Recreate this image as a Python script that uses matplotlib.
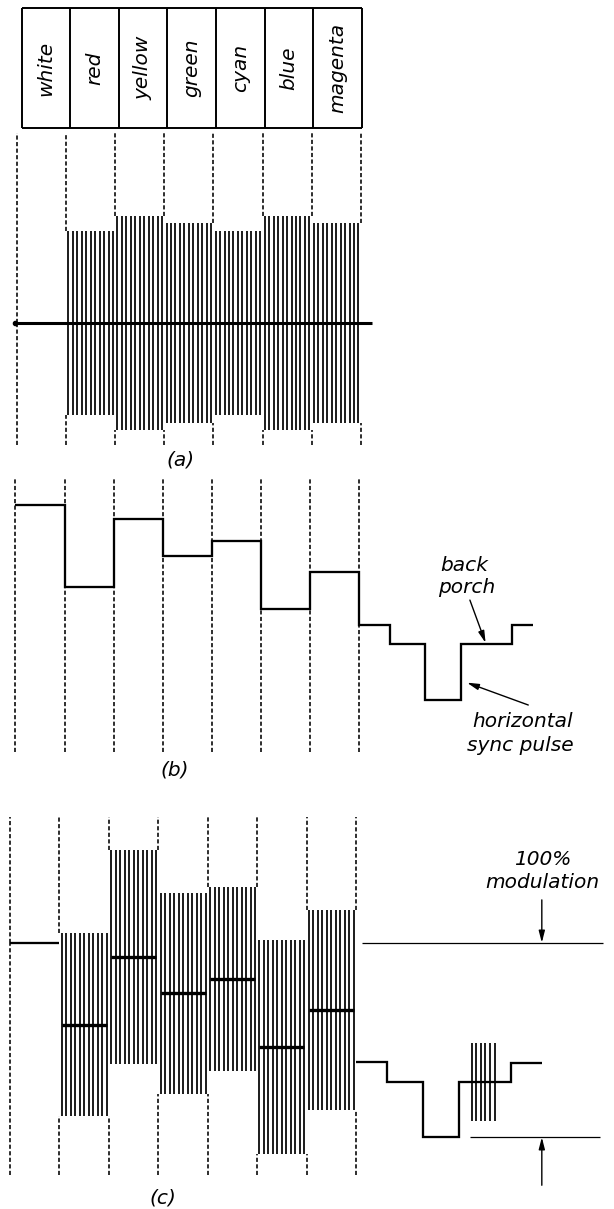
import matplotlib
matplotlib.use("Agg")
import matplotlib.pyplot as plt
import numpy as np

# ---------------- data ----------------
bar_names = ["white", "red", "yellow", "green", "cyan", "blue", "magenta"]
luminance = [100, 41, 90, 63.5, 74, 25, 51.5]      # IRE levels of each bar
chroma = [0, 66, 77, 72, 66, 77, 72]              # half amplitude of colour subcarrier (IRE)
cycles_per_bar = 11
blank_edges = [7.0, 7.63, 8.34, 9.07, 10.12]      # front porch, blanking, sync, back porch
blank_levels = [14, 0, -40, 0, 13.5]
line_end_b = 10.55
line_end_c = 10.75
burst_span = [9.33, 9.80]
burst_amp = 28
burst_cycles = 6
full_mod_level = 100
sync_level = -40
panel_labels = ["(a)", "(b)", "(c)"]

# ---------------- layout ----------------
W, H = 614, 1209
fig = plt.figure(figsize=(W / 100, H / 100), dpi=100)
fig.patch.set_facecolor("white")
K = 1.39  # px per IRE
FS = 14.5
txt = dict(fontstyle="italic", fontsize=FS, color="black", family="DejaVu Sans")
dash = dict(colors="black", linewidth=1.15, linestyles=(0, (2.6, 1.5)))


def panel(top_px, bot_px, x0_px, w_px, zero_px):
    ax = fig.add_axes([0, 1 - bot_px / H, 1, (bot_px - top_px) / H])
    ax.set_xlim(-x0_px / w_px, (W - x0_px) / w_px)
    ax.set_ylim((zero_px - bot_px) / K, (zero_px - top_px) / K)
    ax.axis("off")
    return ax


def carrier_x(i, n):
    return i + (np.arange(n) + 0.5) / n


# ---------------- label boxes ----------------
axl = fig.add_axes([0, 1 - 130 / H, 1, 130 / H])
axl.set_xlim(-21.7 / 48.57, (W - 21.7) / 48.57)
axl.set_ylim(-2 / 120, 1 + 8 / 120)
axl.axis("off")
nb = len(bar_names)
axl.hlines([0, 1], 0, nb, colors="black", linewidth=1.4)
axl.vlines(range(nb + 1), 0, 1, colors="black", linewidth=1.4)
for i, name in enumerate(bar_names):
    axl.text(i + 0.5, 0.5, name, rotation=90, ha="center", va="center", **txt)

# ---------------- panel (a) ----------------
axa = panel(130, 470, 17, 49.1, 323)
ytop_a, ybot_a = (323 - 133) / K, (323 - 445) / K
for j in range(nb + 1):
    nbrs = [n for n in (j - 1, j) if 0 <= n < nb]
    amp = max(chroma[n] for n in nbrs)
    axa.vlines(j, amp, ytop_a, **dash)
    axa.vlines(j, ybot_a, -amp, **dash)
for i in range(nb):
    if chroma[i] > 0:
        axa.vlines(carrier_x(i, cycles_per_bar), -chroma[i], chroma[i],
                   colors="black", linewidth=1.25)
axa.hlines(0, -0.04, 7.23, colors="black", linewidth=2.2)
axa.plot([-0.04], [0], marker="o", markersize=3, color="black")
axa.text((181 - 17) / 49.1, (323 - 460) / K, panel_labels[0], ha="center", va="center", **txt)

# ---------------- panel (b) ----------------
axb = panel(470, 800, 15.5, 49.07, 644)
axb.vlines(range(nb + 1), (644 - 752) / K, (644 - 478) / K, **dash)
edges_b = list(range(nb + 1)) + blank_edges[1:] + [line_end_b]
axb.stairs(luminance + blank_levels, edges_b, baseline=None,
           color="black", linewidth=1.65)
axb.text(8.65, 56.8, "back", ha="left", va="center", **txt)
axb.text(8.62, 40.3, "porch", ha="left", va="center", **txt)
arrow = dict(arrowstyle="-|>,head_length=0.7,head_width=0.18", color="black",
             lw=1.0, shrinkA=0, shrinkB=0)
axb.annotate("", xy=(9.58, 0.8), xytext=(9.26, 31.6), arrowprops=arrow)
axb.annotate("", xy=(9.20, -27.8), xytext=(10.45, -43.9), arrowprops=arrow)
axb.text(9.31, -55.5, "horizontal", ha="left", va="center", **txt)
axb.text(9.20, -73, "sync pulse", ha="left", va="center", **txt)
axb.text((174.5 - 15.5) / 49.07, (644 - 770) / K, panel_labels[1], ha="center", va="center", **txt)

# ---------------- panel (c) ----------------
axc = panel(800, 1209, 9.8, 49.49, 1081.7)
ytop_c, ybot_c = (1081.7 - 817) / K, (1081.7 - 1175) / K
for j in range(nb + 1):
    nbrs = [n for n in (j - 1, j) if 0 <= n < nb]
    hi = max(luminance[n] + chroma[n] for n in nbrs)
    lo = min(luminance[n] - chroma[n] for n in nbrs)
    axc.vlines(j, hi, ytop_c, **dash)
    axc.vlines(j, ybot_c, lo, **dash)
for i in range(nb):
    if chroma[i] > 0:
        xs = carrier_x(i, cycles_per_bar)
        axc.vlines(xs, luminance[i] - chroma[i], luminance[i] + chroma[i],
                   colors="black", linewidth=1.25)
        axc.hlines(luminance[i], xs[0], xs[-1], colors="black", linewidth=2.4)
    else:
        axc.hlines(luminance[i], i, i + 1, colors="black", linewidth=1.65)
edges_c = blank_edges + [line_end_c]
xb = np.linspace(burst_span[0], burst_span[1], burst_cycles)
axc.vlines(xb, -burst_amp, burst_amp, colors="black", linewidth=1.25)
axc.stairs(blank_levels, edges_c, baseline=None, color="black", linewidth=1.65)
axc.hlines(full_mod_level, 7.11, 11.99, colors="black", linewidth=0.9)
axc.hlines(sync_level, 9.30, 11.93, colors="black", linewidth=0.9)
axc.annotate("", xy=(10.75, full_mod_level), xytext=(10.75, 130.8), arrowprops=arrow)
axc.annotate("", xy=(10.75, sync_level), xytext=(10.75, -74.5), arrowprops=arrow)
axc.text(10.77, 159.6, "100%", ha="center", va="center", **txt)
axc.text(10.77, 143, "modulation", ha="center", va="center", **txt)
axc.text((163 - 9.8) / 49.49, (1081.7 - 1198) / K, panel_labels[2], ha="center", va="center", **txt)

fig.savefig("out.png", dpi=100, facecolor="white")
